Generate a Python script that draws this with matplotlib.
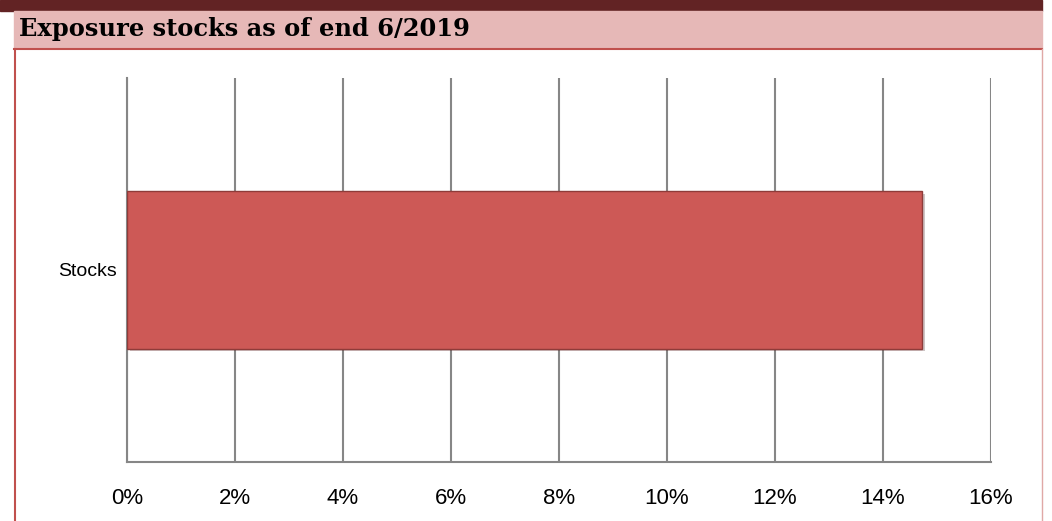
import matplotlib.pyplot as plt
import matplotlib.patheffects as pe
from matplotlib.patches import Rectangle
from matplotlib.lines import Line2D
from matplotlib.ticker import FuncFormatter

# Data
categories = ["Stocks"]
exposure = [14.73]
x_ticks = [0, 2, 4, 6, 8, 10, 12, 14, 16]
title = "Exposure stocks as of end 6/2019"

W, H = 1052, 521
fig = plt.figure(figsize=(W / 100, H / 100), dpi=100)
fig.patch.set_facecolor("white")

# Header bands (figure coords)
fig.patches.append(Rectangle((0, 1 - 11 / H), 1042 / W, 11 / H,
                             transform=fig.transFigure, color="#622324", zorder=0))
fig.patches.append(Rectangle((14 / W, 1 - 48 / H), 1028 / W, 37 / H,
                             transform=fig.transFigure, color="#e6b8b7", zorder=0))
# Frame lines
fig.lines.append(Line2D([14 / W, 1042 / W], [1 - 48.5 / H, 1 - 48.5 / H],
                        transform=fig.transFigure, color="#c0504d", lw=1.5))
fig.lines.append(Line2D([14.5 / W, 14.5 / W], [0, 1 - 48.5 / H],
                        transform=fig.transFigure, color="#c0504d", lw=1.5))
fig.lines.append(Line2D([1042 / W, 1042 / W], [0, 1 - 48.5 / H],
                        transform=fig.transFigure, color="#e0a8a6", lw=1.0))

fig.text(19 / W, 1 - 29 / H, title, fontsize=17.4, fontweight="bold",
         family="DejaVu Serif", color="black", va="center", ha="left")

# Chart
ax = fig.add_axes([127 / W, 1 - 462 / H, 864 / W, 384 / H])
bars = ax.barh(categories, exposure, height=0.41, color="#cd5956",
               edgecolor="#8f3b39", linewidth=1.0, zorder=3)
for b in bars:
    b.set_path_effects([pe.SimplePatchShadow(offset=(2, -2), alpha=0.25),
                        pe.Normal()])
ax.set_xlim(0, 16)
ax.set_ylim(-0.5, 0.5)
ax.set_xticks(x_ticks)
ax.xaxis.set_major_formatter(FuncFormatter(lambda v, p: f"{v:.0f}%"))
ax.grid(axis="x", color="#868686", linewidth=1.5, zorder=0)
ax.tick_params(axis="x", length=0, labelsize=16, pad=19)
ax.tick_params(axis="y", length=0, labelsize=14, pad=7)
for lab in ax.get_xticklabels() + ax.get_yticklabels():
    lab.set_family("Liberation Sans")

for s in ["top", "right"]:
    ax.spines[s].set_visible(False)
for s in ["left", "bottom"]:
    ax.spines[s].set_color("#868686")
    ax.spines[s].set_linewidth(1.5)

fig.savefig("out.png", dpi=100)
